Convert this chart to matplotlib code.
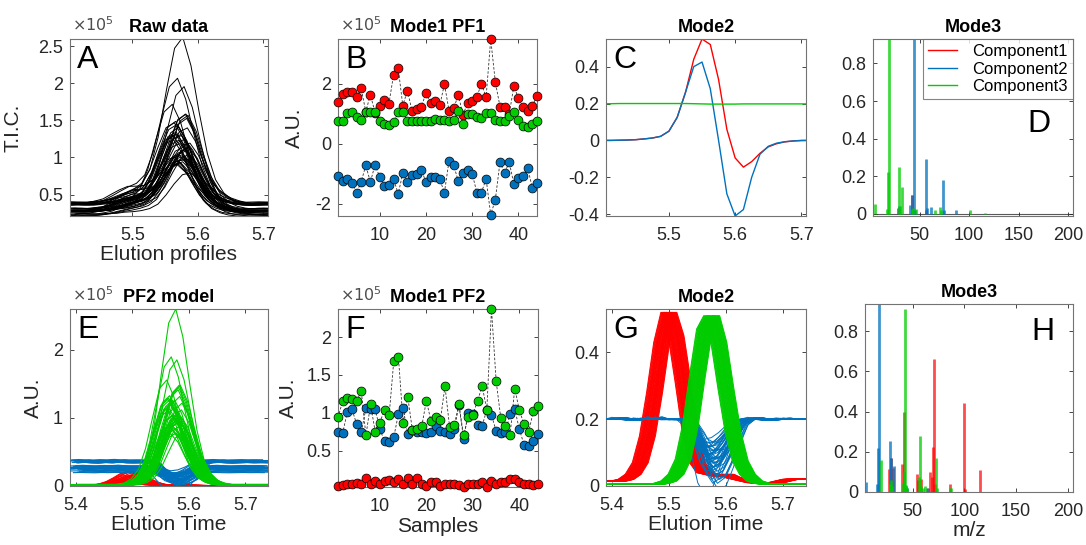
import matplotlib
matplotlib.use('Agg')
import matplotlib.pyplot as plt
import numpy as np
from matplotlib.ticker import FuncFormatter

plt.rcParams['font.family'] = ['Liberation Sans', 'DejaVu Sans']
plt.rcParams['axes.unicode_minus'] = False

RED = '#FF0000'
BLUE = '#0072BD'
GREEN = '#00CC00'
TXT = '#262626'

samples = list(range(1, 45))

scan_time = [5.4000, 5.4125, 5.4250, 5.4375, 5.4500, 5.4625, 5.4750, 5.4875,
             5.5000, 5.5125, 5.5250, 5.5375, 5.5500, 5.5625, 5.5750, 5.5875,
             5.6000, 5.6125, 5.6250, 5.6375, 5.6500, 5.6625, 5.6750, 5.6875,
             5.7000, 5.7125, 5.7250, 5.7375]

# ---- Mode1 PF1 (x1e5) ----
pf1_w1 = [1.41, 1.67, 1.75, 1.72, 1.56, 1.86, 1.08, 1.64, 1.05, 1.27, 1.47, 1.34,
          2.30, 2.54, 1.28, 1.78, 1.10, 1.17, 1.23, 1.70, 1.36, 1.44, 1.29, 2.00,
          1.10, 1.19, 1.64, 0.97, 1.36, 1.44, 1.58, 2.00, 1.56, 3.49, 2.06, 1.25,
          1.23, 1.00, 1.93, 1.52, 1.23, 1.10, 1.28, 1.61]
pf1_w2 = [-1.07, -1.22, -1.18, -1.29, -1.62, -1.27, -0.71, -1.27, -0.69, -1.10, -1.40, -1.35,
          -1.16, -1.66, -0.98, -1.27, -1.04, -0.99, -0.85, -1.27, -1.10, -1.10, -1.18, -1.62,
          -0.55, -0.71, -1.24, -0.98, -0.87, -0.99, -1.62, -1.62, -1.16, -2.36, -1.85, -0.61,
          -0.96, -0.61, -1.33, -1.13, -1.07, -0.80, -1.48, -1.29]
pf1_w3 = [0.78, 0.78, 1.05, 1.06, 0.90, 0.81, 1.06, 1.06, 1.06, 0.77, 0.67, 0.64,
          0.72, 1.06, 1.06, 0.77, 0.77, 0.77, 0.77, 0.77, 0.77, 0.84, 0.81, 0.81,
          0.77, 0.81, 1.10, 0.66, 0.99, 0.99, 0.90, 0.86, 1.05, 1.05, 0.81, 0.77,
          0.77, 0.94, 1.06, 0.81, 0.59, 0.56, 0.67, 0.77]

# ---- Mode2 PF1 ----
pf1_prof1 = [0.0, 0.0, 0.001, 0.002, 0.004, 0.008, 0.013, 0.022, 0.05, 0.125, 0.26, 0.44,
             0.55, 0.52, 0.33, 0.06, -0.095, -0.145, -0.115, -0.07, -0.035, -0.018, -0.008,
             -0.003, 0.0, 0.0, 0.0, 0.0]
pf1_prof2 = [0.0, 0.0, 0.001, 0.002, 0.004, 0.008, 0.013, 0.022, 0.05, 0.125, 0.26, 0.40,
             0.425, 0.28, 0.0, -0.29, -0.41, -0.375, -0.20, -0.075, -0.032, -0.015, -0.007,
             -0.003, -0.001, 0.0, 0.0, 0.0]
pf1_prof3 = [0.199, 0.199, 0.2, 0.2, 0.2, 0.2, 0.2, 0.2, 0.2, 0.2, 0.2, 0.199,
             0.198, 0.197, 0.197, 0.197, 0.197, 0.198, 0.198, 0.198, 0.198, 0.198, 0.198,
             0.198, 0.198, 0.198, 0.198, 0.198]

# ---- Mode3 PF1 spectra ----
pf1_mz1 = [28, 42, 57]
pf1_sp1 = [0.03, 0.10, 0.02]
pf1_mz2 = [29, 40, 42, 44, 45, 57, 58, 62, 74, 75, 87]
pf1_sp2 = [0.04, 0.045, 0.10, 0.93, 0.02, 0.29, 0.03, 0.035, 0.18, 0.02, 0.02]
pf1_mz3 = [5, 17, 18, 19, 29, 30, 32, 42, 43, 46, 66, 71, 72, 101, 116]
pf1_sp3 = [0.05, 0.025, 0.22, 0.93, 0.25, 0.04, 0.14, 0.025, 0.03, 0.025, 0.02, 0.035, 0.02,
           0.02, 0.005]

# ---- Mode1 PF2 (x1e5) ----
pf2_w1 = [0.03, 0.04, 0.06, 0.06, 0.07, 0.06, 0.14, 0.06, 0.10, 0.06, 0.10, 0.11,
          0.09, 0.13, 0.06, 0.14, 0.06, 0.14, 0.06, 0.03, 0.08, 0.08, 0.03, 0.06,
          0.06, 0.06, 0.04, 0.02, 0.06, 0.06, 0.06, 0.08, 0.02, 0.10, 0.06, 0.09,
          0.08, 0.13, 0.12, 0.09, 0.06, 0.06, 0.04, 0.06]
pf2_w2 = [0.75, 0.73, 1.01, 1.05, 0.85, 0.74, 1.06, 1.05, 1.05, 0.78, 0.63, 0.62,
          0.68, 0.99, 1.06, 0.72, 0.77, 0.75, 0.75, 0.73, 0.75, 0.82, 0.76, 0.75,
          0.72, 0.78, 1.10, 0.66, 1.00, 0.98, 0.84, 0.83, 1.04, 0.97, 0.76, 0.73,
          0.75, 0.98, 1.05, 0.78, 0.58, 0.56, 0.63, 0.72]
pf2_w3 = [0.94, 1.15, 1.20, 1.18, 1.15, 1.29, 0.70, 1.11, 0.75, 0.87, 1.04, 0.97,
          1.69, 1.73, 0.87, 1.21, 0.77, 0.78, 0.82, 1.16, 0.89, 0.95, 0.90, 1.35,
          0.81, 0.84, 1.11, 0.70, 0.95, 0.97, 1.16, 1.35, 1.04, 2.37, 1.42, 0.93,
          0.82, 0.71, 1.32, 1.03, 0.85, 0.75, 1.02, 1.09]

# ---- Mode2 PF2: profile per component, retention shift per sample ----
pf2_prof1 = [0.015, 0.015, 0.02, 0.035, 0.07, 0.15, 0.28, 0.43, 0.52, 0.45, 0.31, 0.16,
             0.07, 0.04, 0.035, 0.03, 0.035, 0.025, 0.02, 0.015, 0.01, 0.01, 0.01, 0.01,
             0.015, 0.02, 0.02, 0.02]
pf2_prof2 = [0.2, 0.203, 0.2, 0.198, 0.202, 0.2, 0.204, 0.2, 0.199, 0.2, 0.2, 0.19,
             0.15, 0.10, 0.08, 0.09, 0.12, 0.16, 0.19, 0.2, 0.203, 0.2, 0.198, 0.2,
             0.202, 0.2, 0.201, 0.2]
pf2_prof3 = [0.005, 0.005, 0.005, 0.005, 0.005, 0.005, 0.005, 0.008, 0.015, 0.035, 0.08, 0.18,
             0.33, 0.47, 0.51, 0.43, 0.29, 0.16, 0.075, 0.035, 0.015, 0.008, 0.005, 0.005,
             0.005, 0.005, 0.005, 0.005]
pf2_shift = [0.003, -0.004, 0.009, -0.011, 0.0, 0.006, -0.007, 0.013, -0.003, 0.001, -0.013,
             0.007, 0.004, -0.006, 0.010, -0.009, 0.002, -0.001, 0.012, -0.012, 0.007, -0.004,
             0.001, 0.008, -0.010, 0.004, -0.007, 0.014, -0.002, 0.005, -0.008, 0.010, -0.001,
             0.002, -0.014, 0.011, -0.005, 0.003, 0.007, -0.009, 0.004, -0.004, 0.012, -0.007]
pf2_dip = [1.0, 0.7, 1.3, 0.9, 1.5, 0.6, 1.1, 1.8, 0.8, 1.2, 0.5, 1.4, 1.0, 0.9, 1.6, 0.7,
           1.1, 1.3, 0.8, 1.9, 1.0, 0.6, 1.2, 1.4, 0.9, 1.1, 0.7, 1.5, 1.0, 0.8, 1.3, 1.2,
           0.9, 1.6, 0.7, 1.0, 1.4, 0.8, 1.1, 0.6, 1.2, 1.0, 1.5, 0.9]
# total ion current of each unit spectrum
pf2_tic = [3.0, 1.75, 2.15]

# ---- Mode3 PF2 spectra ----
pf2_mz1 = [27, 29, 31, 40, 42, 44, 54, 55, 58, 65, 67, 69, 70, 71, 72, 86, 100, 101, 115]
pf2_sp1 = [0.115, 0.17, 0.12, 0.14, 0.40, 0.02, 0.09, 0.06, 0.065, 0.02, 0.10, 0.075, 0.225,
           0.66, 0.04, 0.04, 0.445, 0.015, 0.11]
pf2_mz2 = [5, 16, 17, 18, 28, 29, 32, 44, 45, 64]
pf2_sp2 = [0.05, 0.04, 0.22, 0.94, 0.255, 0.17, 0.13, 0.03, 0.02, 0.02]
pf2_mz3 = [19, 28, 29, 30, 41, 42, 43, 44, 45, 56, 57, 58, 60, 62, 73, 74, 86, 87]
pf2_sp3 = [0.16, 0.04, 0.06, 0.03, 0.045, 0.10, 0.91, 0.035, 0.02, 0.075, 0.28, 0.03, 0.02,
           0.03, 0.17, 0.02, 0.02, 0.02]

W, H = 1086, 545
fig = plt.figure(figsize=(W / 100, H / 100), dpi=100)

TICK = 13
LAB = 15


def px_axes(l, t, r, b):
    return fig.add_axes([l / W, 1 - b / H, (r - l) / W, (b - t) / H])


def style(ax):
    ax.tick_params(direction='in', top=True, right=True, labelsize=TICK, colors=TXT,
                   length=3, width=0.6)
    ax.tick_params(axis='x', pad=8)
    ax.tick_params(axis='y', pad=5)
    for s in ax.spines.values():
        s.set_color('0.45')
        s.set_linewidth(0.8)
    ax.yaxis.set_major_formatter(FuncFormatter(lambda v, p: '%g' % round(v, 6)))
    ax.xaxis.set_major_formatter(FuncFormatter(lambda v, p: '%g' % round(v, 6)))


def letter(ax, s, x=0.035, y=0.965):
    ax.text(x, y, s, transform=ax.transAxes, fontsize=23, ha='left', va='top', color='k')


def exp5(ax):
    ax.text(0.01, 1.03, r'$\times10^5$', transform=ax.transAxes, fontsize=11.5,
            ha='left', va='bottom', color='0.3')


def title(ax, s):
    ax.set_title(s, fontsize=13, fontweight='bold', pad=5)


axA = px_axes(70, 39, 268, 216)
axB = px_axes(338, 39, 537, 216)
axC = px_axes(606, 39, 806, 216)
axD = px_axes(873, 39, 1073, 216)
axE = px_axes(70, 309, 268, 486)
axF = px_axes(338, 309, 538, 487)
axG = px_axes(606, 309, 806, 486)
axH = px_axes(865, 304, 1073, 492)

t = np.array(scan_time)

# PF2 model per sample
for k in range(len(samples)):
    tk = t + pf2_shift[k]
    blue_k = 0.2 + pf2_dip[k] * (np.array(pf2_prof2) - 0.2)
    e1 = pf2_w1[k] * np.array(pf2_prof1) * pf2_tic[0]
    e2 = pf2_w2[k] * blue_k * pf2_tic[1]
    e3 = pf2_w3[k] * np.array(pf2_prof3) * pf2_tic[2]
    axA.plot(tk, e1 + e2 + e3, color='k', lw=0.7)
    axE.plot(tk, e1, color=RED, lw=0.8, zorder=2)
    axE.plot(tk, e2, color=BLUE, lw=0.8, zorder=3)
    axE.plot(tk, e3, color=GREEN, lw=0.8, zorder=4)
    axG.plot(tk, pf2_prof1, color=RED, lw=0.7, zorder=2)
    axG.plot(tk, blue_k, color=BLUE, lw=0.7, zorder=3)
    axG.plot(tk, pf2_prof3, color=GREEN, lw=0.7, zorder=4)

# A
style(axA)
axA.set_xlim(5.405, 5.707)
axA.set_ylim(0.21, 2.6)
axA.set_xticks([5.5, 5.6, 5.7])
axA.set_yticks([0.5, 1, 1.5, 2, 2.5])
axA.set_xlabel('Elution profiles', fontsize=LAB, color=TXT, labelpad=1)
axA.set_ylabel('T.I.C.', fontsize=LAB, color=TXT, labelpad=11)
title(axA, 'Raw data')
exp5(axA)
letter(axA, 'A')

# B / F scatter
for ax, ws in ((axB, (pf1_w1, pf1_w2, pf1_w3)), (axF, (pf2_w1, pf2_w2, pf2_w3))):
    for w, c in zip(ws, (RED, BLUE, GREEN)):
        ax.plot(samples, w, ls='--', color='0.2', lw=0.6, dashes=(3, 2), zorder=2)
        ax.plot(samples, w, ls='none', marker='o', ms=6.4, mfc=c, mec='k', mew=0.5,
                clip_on=False, zorder=3)
    style(ax)
    ax.set_xlim(1, 44)
    ax.set_xticks([10, 20, 30, 40])
    exp5(ax)

axB.set_ylim(-2.4, 3.5)
axB.set_yticks([-2, 0, 2])
axB.set_ylabel('A.U.', fontsize=LAB, color=TXT, labelpad=8)
title(axB, 'Mode1 PF1')
letter(axB, 'B')

axF.set_ylim(0.02, 2.37)
axF.set_yticks([0.5, 1, 1.5, 2])
axF.set_ylabel('A.U.', fontsize=LAB, color=TXT, labelpad=6)
axF.set_xlabel('Samples', fontsize=LAB, color=TXT, labelpad=1)
title(axF, 'Mode1 PF2')
letter(axF, 'F')

# C
axC.plot(t, pf1_prof1, color=RED, lw=1.0)
axC.plot(t, pf1_prof2, color=BLUE, lw=1.0)
axC.plot(t, pf1_prof3, color=GREEN, lw=1.0)
style(axC)
axC.set_xlim(5.405, 5.707)
axC.set_ylim(-0.41, 0.55)
axC.set_xticks([5.5, 5.6, 5.7])
axC.set_yticks([-0.4, -0.2, 0, 0.2, 0.4])
title(axC, 'Mode2')
letter(axC, 'C')

# D
axD.axhline(0, color='0.35', lw=0.8, zorder=1)
axD.vlines(pf1_mz1, 0, pf1_sp1, color=RED, lw=2, alpha=0.75)
axD.vlines(pf1_mz2, 0, pf1_sp2, color=BLUE, lw=2, alpha=0.75)
axD.vlines(pf1_mz3, 0, pf1_sp3, color=GREEN, lw=2, alpha=0.75)
style(axD)
axD.set_xlim(3, 205)
axD.set_ylim(-0.012, 0.93)
axD.set_xticks([50, 100, 150, 200])
axD.set_yticks([0, 0.2, 0.4, 0.6, 0.8])
hl = [plt.Line2D([], [], color=c, lw=1) for c in (RED, BLUE, GREEN)]
leg = axD.legend(hl, ['Component1', 'Component2', 'Component3'], loc='upper right',
                 fontsize=12, frameon=True, fancybox=False, borderaxespad=0,
                 edgecolor='0.4', handlelength=1.75, labelspacing=0.15, borderpad=0.3,
                 handletextpad=0.9)
leg.get_frame().set_linewidth(0.8)
title(axD, 'Mode3')
letter(axD, 'D', x=0.77, y=0.605)

# E
style(axE)
axE.set_xlim(5.39, 5.74)
axE.set_ylim(0, 2.6)
axE.set_xticks([5.4, 5.5, 5.6, 5.7])
axE.set_yticks([0, 1, 2])
axE.set_xlabel('Elution Time', fontsize=LAB, color=TXT, labelpad=1)
axE.set_ylabel('A.U.', fontsize=LAB, color=TXT, labelpad=7)
title(axE, 'PF2 model')
exp5(axE)
letter(axE, 'E')

# G
style(axG)
axG.set_xlim(5.39, 5.74)
axG.set_ylim(0, 0.53)
axG.set_xticks([5.4, 5.5, 5.6, 5.7])
axG.set_yticks([0, 0.2, 0.4])
axG.set_xlabel('Elution Time', fontsize=LAB, color=TXT, labelpad=1)
title(axG, 'Mode2')
letter(axG, 'G')

# H
axH.vlines(pf2_mz1, 0, pf2_sp1, color=RED, lw=2, alpha=0.7)
axH.vlines(pf2_mz2, 0, pf2_sp2, color=BLUE, lw=2, alpha=0.75)
axH.vlines(pf2_mz3, 0, pf2_sp3, color=GREEN, lw=2, alpha=0.75)
style(axH)
axH.set_xlim(4, 205)
axH.set_ylim(0, 0.935)
axH.set_xticks([50, 100, 150, 200])
axH.set_yticks([0, 0.2, 0.4, 0.6, 0.8])
axH.set_xlabel('m/z', fontsize=LAB, color=TXT, labelpad=1)
title(axH, 'Mode3')
letter(axH, 'H', x=0.8, y=0.93)

fig.savefig('out.png', dpi=100)
